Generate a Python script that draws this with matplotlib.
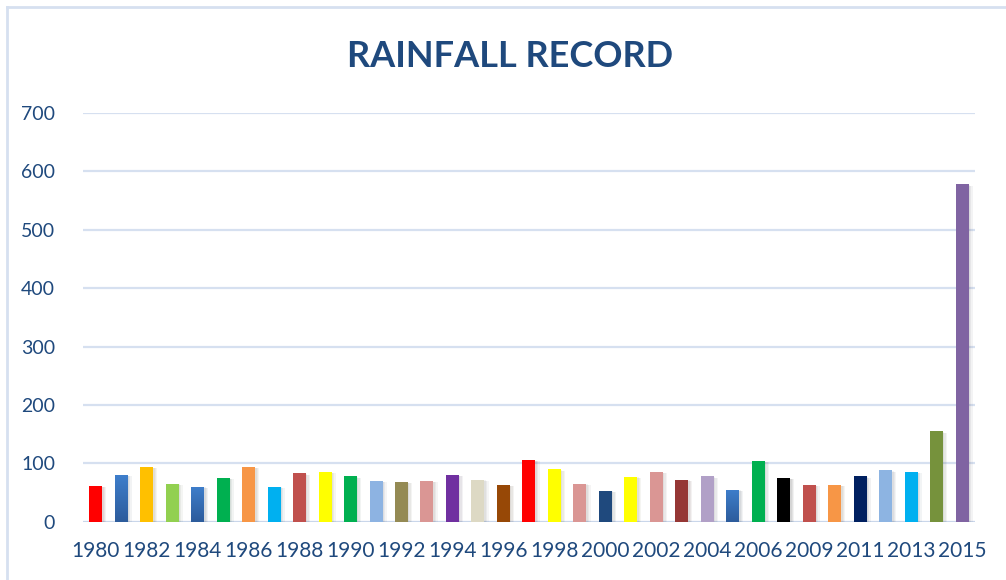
import numpy as np
import matplotlib
matplotlib.use('Agg')
import matplotlib.pyplot as plt
import matplotlib.patheffects as pe
from matplotlib.colors import LinearSegmentedColormap
from matplotlib.lines import Line2D

# rainfall per year (2008 not in the record)
years = ['1980', '1981', '1982', '1983', '1984', '1985', '1986', '1987', '1988',
         '1989', '1990', '1991', '1992', '1993', '1994', '1995', '1996', '1997',
         '1998', '1999', '2000', '2001', '2002', '2003', '2004', '2005', '2006',
         '2007', '2009', '2010', '2011', '2012', '2013', '2014', '2015']
rainfall = [61, 80, 94, 65, 60, 75, 94, 60, 83,
            85, 78, 70, 68, 70, 80, 72, 63, 106,
            90, 65, 53, 77, 85, 72, 78, 55, 104,
            75, 63, 63, 78, 88, 85, 155, 578]

# None -> blue gradient fill
bar_colors = ['#FF0000', None, '#FFC000', '#92D050', None, '#00B050', '#F79646', '#00B0F0', '#C0504D',
              '#FFFF00', '#00B050', '#8DB3E2', '#948A54', '#DA9694', '#7030A0', '#DDD9C4', '#974806', '#FF0000',
              '#FFFF00', '#DA9694', '#1F497D', '#FFFF00', '#DA9694', '#953735', '#B1A0C7', None, '#00B050',
              '#000000', '#C0504D', '#F79646', '#002060', '#8DB4E2', '#00B0F0', '#76923C', '#8064A2']

text_col = '#1F497D'
grid_col = '#D6E0F0'
plt.rcParams['font.family'] = ['Lato', 'DejaVu Sans']

fig = plt.figure(figsize=(10.06, 5.8), dpi=100)
ax = fig.add_axes([0.0825, 0.1005, 0.8865, 0.7045])

x = np.arange(len(years))
# soft shadow: a few faint offset copies
shadow = [pe.SimplePatchShadow(offset=(3, -1), alpha=0.05),
          pe.SimplePatchShadow(offset=(2, -1), alpha=0.06),
          pe.SimplePatchShadow(offset=(1, -0.5), alpha=0.06), pe.Normal()]
bars = ax.bar(x, rainfall, width=0.51, color=[c if c else '#3670B8' for c in bar_colors],
              zorder=3, path_effects=shadow)

# gradient for the blue bars
blue_grad = LinearSegmentedColormap.from_list('bg', ['#2D5C9C', '#3E7ECB'])
for b, c in zip(bars, bar_colors):
    if c is None:
        x0, y0 = b.get_x(), b.get_y()
        w, h = b.get_width(), b.get_height()
        im = ax.imshow(np.linspace(0, 1, 50).reshape(-1, 1), cmap=blue_grad, origin='lower',
                       extent=[x0, x0 + w, y0, y0 + h], aspect='auto', zorder=4)
        im.set_clip_path(b)

ax.set_xlim(-0.5, len(years) - 0.5)
ax.set_ylim(0, 700)
ax.set_yticks(range(0, 701, 100))
ax.set_xticks(x[::2], years[::2])
ax.grid(axis='y', color=grid_col, linewidth=1.6, zorder=0)
ax.axhline(0, color='#C9D6EA', linewidth=2.2, zorder=2)
for s in ax.spines.values():
    s.set_visible(False)
ax.tick_params(length=0, colors=text_col)
ax.tick_params(axis='y', labelsize=14, pad=20)
ax.tick_params(axis='x', labelsize=15, pad=14)

fig.text(0.507, 0.902, 'RAINFALL RECORD', ha='center', va='center',
         fontsize=26, fontweight='bold', color=text_col)

# chart frame (left and top edges visible)
fig.add_artist(Line2D([0.007, 0.007], [0, 0.988], color='#D6E0F0', linewidth=2, transform=fig.transFigure))
fig.add_artist(Line2D([0.007, 1.0], [0.988, 0.988], color='#D6E0F0', linewidth=2, transform=fig.transFigure))

fig.savefig('out.png', dpi=100)
